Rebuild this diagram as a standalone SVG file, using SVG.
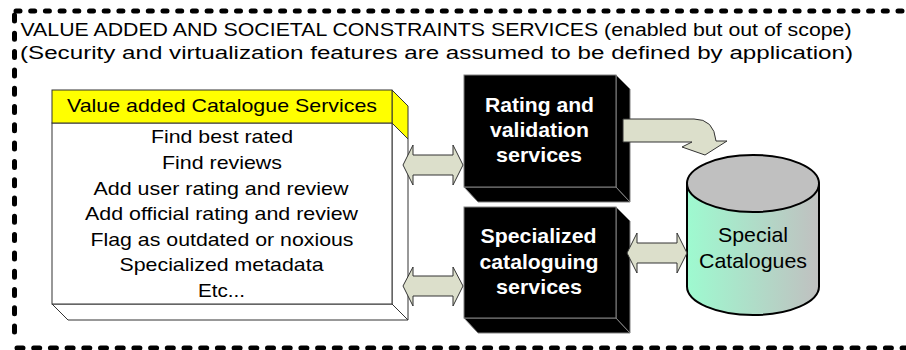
<svg xmlns="http://www.w3.org/2000/svg" width="906" height="350" viewBox="0 0 906 350">
<defs>
<style>
.t{font-family:"Liberation Sans",Arial,sans-serif;font-size:18.5px;fill:#000;text-anchor:middle}
.tl{font-family:"Liberation Sans",Arial,sans-serif;font-size:17.5px;fill:#000}
.c{font-family:"Liberation Sans",Arial,sans-serif;font-size:21px;fill:#000;text-anchor:middle}
.w{font-family:"Liberation Sans",Arial,sans-serif;font-size:21px;font-weight:bold;fill:#fff;text-anchor:middle}
.blk{fill:#000;stroke:#808080;stroke-width:1}
.arr{fill:#DCDFCB;stroke:#333;stroke-width:1}
.dash{fill:none;stroke:#000;stroke-width:5;stroke-linecap:round}
</style>
<linearGradient id="cyl" x1="0" y1="0" x2="1" y2="0">
<stop offset="0" stop-color="#9EFAD0"/>
<stop offset="1" stop-color="#C0C0C0"/>
</linearGradient>
</defs>
<g id="scope">
<path class="dash" d="M16,11 L906,11" stroke-dasharray="4 10.7"/>
<path class="dash" d="M14.5,15 L14.5,342" stroke-dasharray="6 12.3"/>
<path class="dash" d="M17,348 L906,348" stroke-dasharray="6 10.7"/>
<text class="tl" x="20.5" y="36" textLength="831" lengthAdjust="spacingAndGlyphs">VALUE ADDED AND SOCIETAL CONSTRAINTS SERVICES (enabled but out of scope)</text>
<text class="tl" x="20" y="59" textLength="833" lengthAdjust="spacingAndGlyphs">(Security and virtualization features are assumed to be defined by application)</text>
</g>
<g id="value-added">
<polygon points="52,304 392,304 408,320 68,320" fill="#fff" stroke="#333" stroke-width="1"/>
<polygon points="392,123 408,139 408,320 392,304" fill="#fff" stroke="#333" stroke-width="1"/>
<polygon points="392,90 408,106 408,139 392,123" fill="#FFFF00" stroke="#333" stroke-width="1"/>
<rect x="52" y="123" width="340" height="181" fill="#fff" stroke="#333" stroke-width="1"/>
<rect x="52" y="90" width="340" height="33" fill="#FFFF00" stroke="#333" stroke-width="1"/>
<text class="t" x="222" y="112" textLength="310" lengthAdjust="spacingAndGlyphs">Value added Catalogue Services</text>
<text class="t" x="222" y="143" textLength="142" lengthAdjust="spacingAndGlyphs">Find best rated</text>
<text class="t" x="222" y="169" textLength="120" lengthAdjust="spacingAndGlyphs">Find reviews</text>
<text class="t" x="221" y="195" textLength="255" lengthAdjust="spacingAndGlyphs">Add user rating and review</text>
<text class="t" x="221.5" y="220" textLength="273" lengthAdjust="spacingAndGlyphs">Add official rating and review</text>
<text class="t" x="222" y="246" textLength="263" lengthAdjust="spacingAndGlyphs">Flag as outdated or noxious</text>
<text class="t" x="221.5" y="271" textLength="204" lengthAdjust="spacingAndGlyphs">Specialized metadata</text>
<text class="t" x="221.5" y="297" textLength="47" lengthAdjust="spacingAndGlyphs">Etc...</text>
</g>
<g id="rating">
<polygon class="blk" points="464,187 616,187 630,202 478,202"/>
<polygon class="blk" points="616,75 630,89 630,202 616,187"/>
<rect class="blk" x="464" y="75" width="152" height="112"/>
<text class="w" x="539.5" y="112" textLength="109" lengthAdjust="spacingAndGlyphs">Rating and</text>
<text class="w" x="539.5" y="137" textLength="99" lengthAdjust="spacingAndGlyphs">validation</text>
<text class="w" x="539" y="162" textLength="86" lengthAdjust="spacingAndGlyphs">services</text>
</g>
<g id="specialized">
<polygon class="blk" points="464,318 616,318 630,333 478,333"/>
<polygon class="blk" points="616,207 630,221 630,333 616,318"/>
<rect class="blk" x="464" y="207" width="152" height="111"/>
<text class="w" x="538.5" y="243" textLength="116" lengthAdjust="spacingAndGlyphs">Specialized</text>
<text class="w" x="539" y="269" textLength="119" lengthAdjust="spacingAndGlyphs">cataloguing</text>
<text class="w" x="539" y="294" textLength="86" lengthAdjust="spacingAndGlyphs">services</text>
</g>
<g id="special-catalogues">
<path d="M687,183.5 L687,286.5 A66,28.5 0 0 0 819,286.5 L819,183.5 Z" fill="url(#cyl)" stroke="#000" stroke-width="2"/>
<ellipse cx="753" cy="183.5" rx="66" ry="28.5" fill="#C0C0C0" stroke="#000" stroke-width="2"/>
<text class="c" x="753" y="242" textLength="70" lengthAdjust="spacingAndGlyphs">Special</text>
<text class="c" x="753" y="268" textLength="108" lengthAdjust="spacingAndGlyphs">Catalogues</text>
</g>
<g id="connectors">
<polygon class="arr" points="403,165 413,145 413,155 453,155 453,145 463,165 453,185 453,175 413,175 413,185"/>
<polygon class="arr" points="403,286 413,267 413,276 453,276 453,267 463,286 453,306 453,296 413,296 413,306"/>
<polygon class="arr" points="627,253 637,233 637,243 677,243 677,233 687,253 677,273 677,263 637,263 637,273"/>
<path class="arr" d="M623,119 L694,119 Q714,119 716,141 L727,141 L705,155 L682,147 L692,142 L623,142 Z"/>
</g>
</svg>
